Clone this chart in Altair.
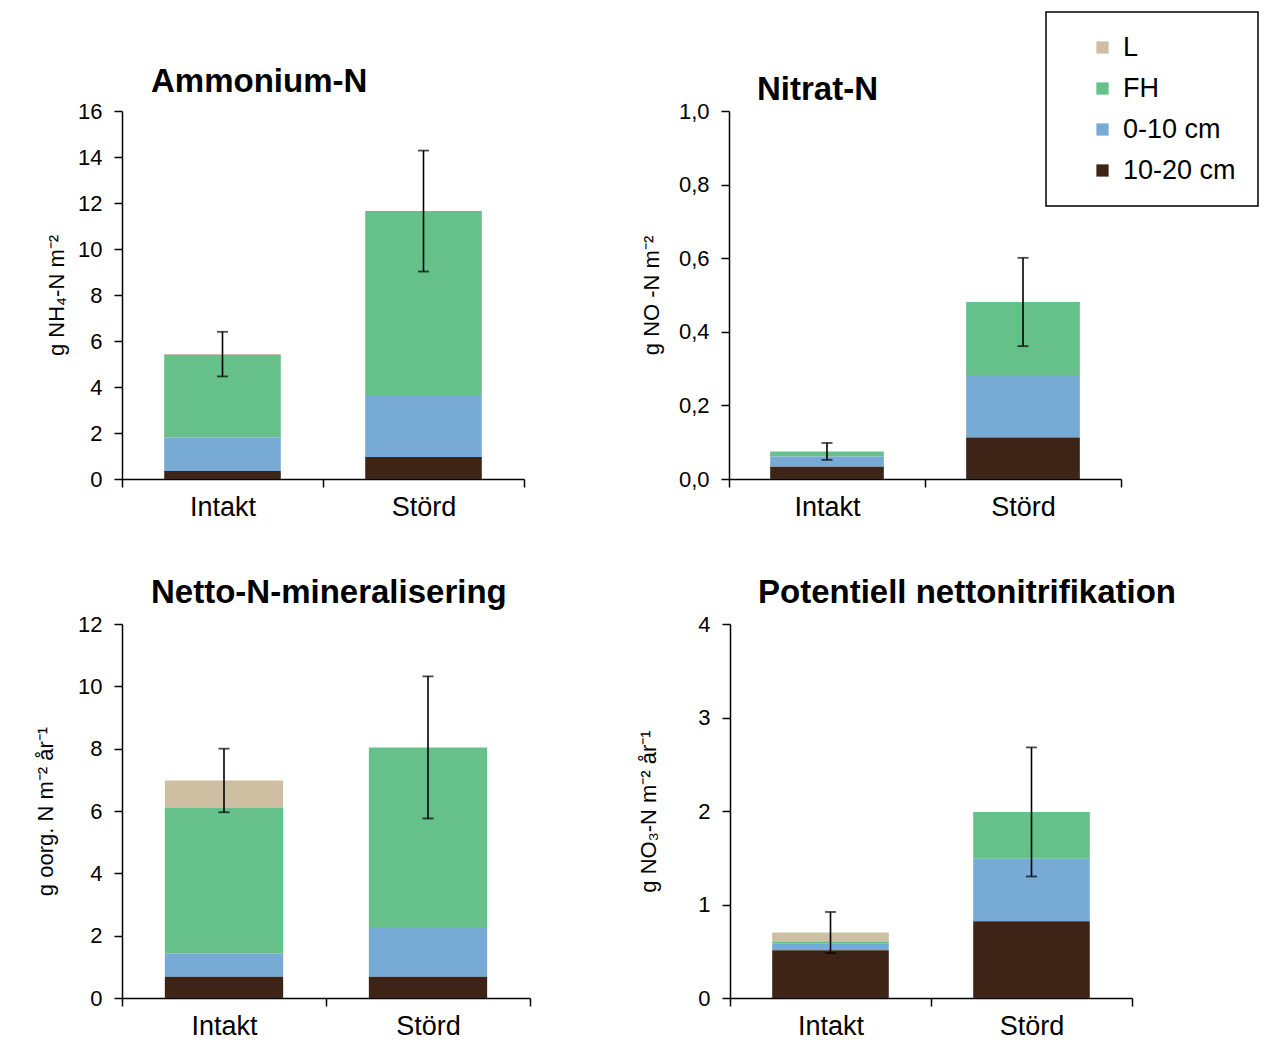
import altair as alt
import pandas as pd

categories = ["Intakt", "Störd"]
layers = ["L", "FH", "0-10 cm", "10-20 cm"]
layer_colors = ["#CEBFA3", "#66C089", "#77ABD6", "#3D2416"]

panels = ["Ammonium-N", "Nitrat-N", "Netto-N-mineralisering", "Potentiell nettonitrifikation"]
y_titles = ["g NH₄-N  m⁻²", "g NO  -N  m⁻²", "g oorg. N m⁻² år⁻¹", "g NO₃-N  m⁻² år⁻¹"]
y_max = [16, 1.0, 12, 4]
y_step = [2, 0.2, 2, 1]

# segment values per layer, [Intakt, Störd]
amm_L = [0.04, 0.0]
amm_FH = [3.59, 8.00]
amm_0_10 = [1.45, 2.69]
amm_10_20 = [0.35, 0.96]
amm_err = [0.97, 2.63]

nit_L = [0.0, 0.0]
nit_FH = [0.014, 0.201]
nit_0_10 = [0.028, 0.167]
nit_10_20 = [0.033, 0.113]
nit_err = [0.023, 0.12]

min_L = [0.87, 0.0]
min_FH = [4.68, 5.79]
min_0_10 = [0.75, 1.57]
min_10_20 = [0.68, 0.68]
min_err = [1.02, 2.28]

pot_L = [0.10, 0.0]
pot_FH = [0.02, 0.50]
pot_0_10 = [0.07, 0.67]
pot_10_20 = [0.51, 0.82]
pot_err = [0.22, 0.69]

panel_values = {
    "Ammonium-N": ([amm_L, amm_FH, amm_0_10, amm_10_20], amm_err),
    "Nitrat-N": ([nit_L, nit_FH, nit_0_10, nit_10_20], nit_err),
    "Netto-N-mineralisering": ([min_L, min_FH, min_0_10, min_10_20], min_err),
    "Potentiell nettonitrifikation": ([pot_L, pot_FH, pot_0_10, pot_10_20], pot_err),
}

seg_rows = []
err_rows = []
for p in panels:
    vals, errs = panel_values[p]
    for ci, c in enumerate(categories):
        total = 0.0
        for li, lay in enumerate(layers):
            v = vals[li][ci]
            total += v
            seg_rows.append({"panel": p, "cat": c, "layer": lay, "value": v,
                             "order": len(layers) - li})
        err_rows.append({"panel": p, "cat": c, "lo": total - errs[ci], "hi": total + errs[ci]})

seg_df = pd.DataFrame(seg_rows)
err_df = pd.DataFrame(err_rows)

FONT = "Liberation Sans"

legend = alt.Legend(
    title=None,
    orient="none", legendX=924, legendY=-99,
    strokeColor="black", padding=22, fillColor="white",
    symbolType="square", symbolSize=150, symbolStrokeWidth=0, symbolOffset=21,
    labelFontSize=27, labelFont=FONT, labelColor="black", rowPadding=13,
    labelOffset=7, labelLimit=300,
)


def make_panel(i, width, height, title_offset, title_dx, title_pad):
    p = panels[i]
    ymax = y_max[i]
    step = y_step[i]
    n = int(round(ymax / step))
    ticks = [round(k * step, 3) for k in range(n + 1)]
    if ymax <= 1:
        lab = "replace(format(datum.value, '.1f'), '.', ',')"
    else:
        lab = "format(datum.value, 'd')"
    xenc = alt.X("cat:N", sort=categories, title=None,
                 scale=alt.Scale(domain=categories, paddingInner=0, paddingOuter=0),
                 axis=alt.Axis(labelAngle=0, tickBand="extent", labelFontSize=27,
                               labelPadding=7, tickSize=8))
    yscale = alt.Scale(domain=[0, ymax], nice=False)
    bars = alt.Chart(seg_df).transform_filter(alt.datum.panel == p).mark_bar(
        width={"band": 0.58}
    ).encode(
        x=xenc,
        y=alt.Y("value:Q", stack="zero", scale=yscale,
                axis=alt.Axis(values=ticks, title=y_titles[i], labelExpr=lab,
                              labelFontSize=22, titleFontSize=22, titleFontWeight="normal",
                              labelPadding=12, titlePadding=title_pad, tickSize=8)),
        color=alt.Color("layer:N", scale=alt.Scale(domain=layers, range=layer_colors),
                        legend=legend),
        order=alt.Order("order:Q"),
    )
    ebase = alt.Chart(err_df).transform_filter(alt.datum.panel == p)
    rule = ebase.mark_rule(color="black", strokeWidth=1.6).encode(
        x=alt.X("cat:N", sort=categories), y=alt.Y("lo:Q", scale=yscale), y2="hi:Q")
    cap_lo = ebase.mark_tick(color="black", size=11, thickness=1.8).encode(
        x=alt.X("cat:N", sort=categories), y=alt.Y("lo:Q", scale=yscale))
    cap_hi = ebase.mark_tick(color="black", size=11, thickness=1.8).encode(
        x=alt.X("cat:N", sort=categories), y=alt.Y("hi:Q", scale=yscale))
    return alt.layer(bars, rule, cap_lo, cap_hi).properties(
        width=width, height=height,
        title=alt.TitleParams(p, anchor="start", frame="group", dx=title_dx,
                              offset=title_offset, fontSize=33, font=FONT,
                              fontWeight="bold", color="black"),
    )


row1 = alt.hconcat(make_panel(0, 402, 368, 1, 29, 9),
                   make_panel(1, 392, 368, -7, 28, 15), spacing=115)
row2 = alt.hconcat(make_panel(2, 408, 374, 3, 29, 20),
                   make_panel(3, 402, 374, 3, 28, 37), spacing=106)

chart = alt.vconcat(row1, row2, spacing=57).properties(
    padding={"left": 26, "top": 3, "right": 0, "bottom": 0}
).configure_view(stroke=None).configure_axis(
    grid=False, domainColor="black", tickColor="black", labelColor="black",
    titleColor="black", domainWidth=1.5, tickWidth=1.5, labelFont=FONT, titleFont=FONT,
).configure_legend(strokeWidth=1.5)

chart.save("out.html", embed_options={"renderer": "svg", "actions": False})
